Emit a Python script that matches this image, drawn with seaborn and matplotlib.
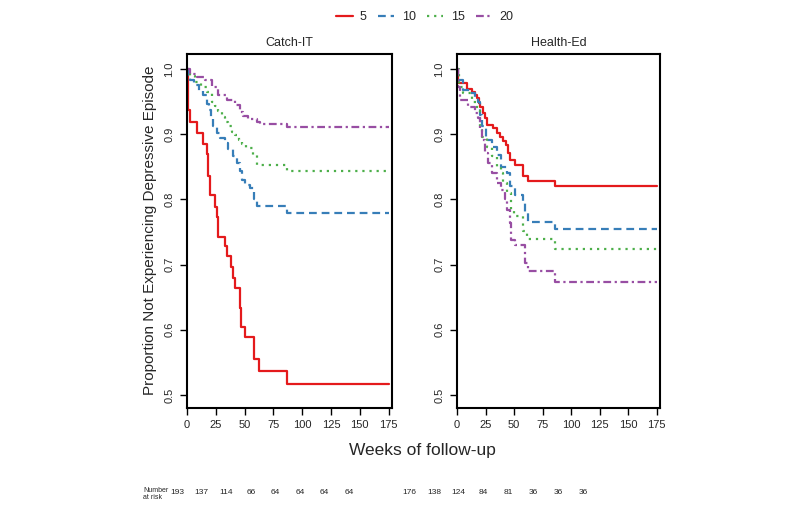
import numpy as np
import pandas as pd
import matplotlib
matplotlib.use("Agg")
import matplotlib.pyplot as plt
from matplotlib.lines import Line2D
from matplotlib import font_manager
import seaborn as sns

# ---------------- data ----------------
groups = ["5", "10", "15", "20"]
panel_titles = ["Catch-IT", "Health-Ed"]
x_ticks = [0, 25, 50, 75, 100, 125, 150, 175]
y_ticks = [0.5, 0.6, 0.7, 0.8, 0.9, 1.0]

ci_t5 = [0, 0.5, 1, 2.5, 8.5, 13.5, 17, 18.5, 20, 24.5, 26, 27, 33, 34.5, 38, 40, 42, 46, 47, 50.5, 58.5, 62.5, 87, 175]
ci_s5 = [1.0, 0.97, 0.937, 0.919, 0.902, 0.885, 0.869, 0.836, 0.806, 0.789, 0.773, 0.743, 0.728, 0.713, 0.697, 0.680, 0.664, 0.634, 0.604, 0.589, 0.555, 0.536, 0.517, 0.517]
ci_t10 = [0, 1, 3, 6, 10, 14, 17, 19, 21, 23, 26, 29, 33, 36, 40, 43, 46, 47.5, 50, 55, 58, 61, 87, 175]
ci_s10 = [1.0, 0.99, 0.983, 0.975, 0.967, 0.96, 0.947, 0.937, 0.925, 0.912, 0.902, 0.894, 0.887, 0.877, 0.866, 0.856, 0.843, 0.83, 0.822, 0.818, 0.80, 0.79, 0.779, 0.779]
ci_t15 = [0, 2.5, 7, 12.5, 17, 21.5, 24, 27, 30, 33, 36, 39, 42, 45, 48, 51, 57.5, 61, 87, 175]
ci_s15 = [1.0, 0.99, 0.98, 0.973, 0.965, 0.95, 0.943, 0.935, 0.927, 0.919, 0.912, 0.904, 0.898, 0.891, 0.885, 0.879, 0.868, 0.852, 0.844, 0.844]
ci_t20 = [0, 3, 8.5, 16, 21.5, 27, 34.5, 41.5, 46, 49, 53, 60.5, 63, 87, 175]
ci_s20 = [1.0, 0.993, 0.988, 0.983, 0.972, 0.96, 0.953, 0.945, 0.934, 0.928, 0.924, 0.919, 0.915, 0.911, 0.911]

he_t5 = [0, 1, 8.5, 12.8, 15.7, 17.8, 19, 20, 22.5, 24.5, 26.5, 31.8, 34.7, 37.6, 40.5, 42.8, 44.8, 46.3, 50.7, 58, 62, 86, 175]
he_s5 = [1.0, 0.978, 0.970, 0.965, 0.96, 0.955, 0.948, 0.942, 0.932, 0.925, 0.914, 0.909, 0.902, 0.896, 0.889, 0.884, 0.871, 0.861, 0.853, 0.836, 0.828, 0.82, 0.82]
he_t10 = [0, 1, 5.5, 11.3, 15.7, 18.7, 20, 21.6, 25.4, 30.3, 34.7, 39, 43.5, 46.4, 50.7, 58, 59.5, 62.4, 86, 175]
he_s10 = [1.0, 0.983, 0.968, 0.963, 0.955, 0.95, 0.93, 0.912, 0.891, 0.881, 0.868, 0.85, 0.84, 0.82, 0.807, 0.794, 0.779, 0.766, 0.755, 0.755]
he_t15 = [0, 1.5, 5.5, 12.8, 17.2, 20, 21.6, 26.5, 30.3, 34.7, 39, 40.5, 44, 47.5, 50, 58, 61, 86, 175]
he_s15 = [1.0, 0.973, 0.963, 0.95, 0.935, 0.912, 0.896, 0.881, 0.866, 0.85, 0.84, 0.825, 0.81, 0.784, 0.774, 0.752, 0.739, 0.724, 0.724]
he_t20 = [0, 1, 2.6, 10, 15.7, 18.7, 20, 21.6, 24.5, 27.4, 30.3, 34.7, 39, 42, 43.5, 46.4, 47.5, 50.7, 59.5, 62.4, 86, 175]
he_s20 = [1.0, 0.973, 0.953, 0.942, 0.932, 0.925, 0.907, 0.891, 0.871, 0.856, 0.84, 0.825, 0.815, 0.80, 0.784, 0.764, 0.738, 0.73, 0.702, 0.69, 0.674, 0.674]

ci_risk = [193, 137, 114, 66, 64, 64, 64, 64]
he_risk = [176, 138, 124, 84, 81, 36, 36, 36]

# ---------------- style ----------------
sns.set_theme(style="ticks")
names = {f.name for f in font_manager.fontManager.ttflist}
fam = "Liberation Sans Narrow" if "Liberation Sans Narrow" in names else "Liberation Sans"
plt.rcParams["font.family"] = [fam, "DejaVu Sans"]

palette = {"5": "#E41A1C", "10": "#377EB8", "15": "#4DAF4A", "20": "#984EA3"}
dashes = {"5": "", "10": (3.5, 2.2), "15": (1, 2.2), "20": (3.5, 1.6, 1, 1.6)}
LW = 1.6


def make_df(ts, ss):
    rows = []
    for g, t, s in zip(groups, ts, ss):
        rows.append(pd.DataFrame({"time": t, "surv": s, "group": g}))
    return pd.concat(rows, ignore_index=True)


df_ci = make_df([ci_t5, ci_t10, ci_t15, ci_t20], [ci_s5, ci_s10, ci_s15, ci_s20])
df_he = make_df([he_t5, he_t10, he_t15, he_t20], [he_s5, he_s10, he_s15, he_s20])

W, H = 798, 507
fig = plt.figure(figsize=(W / 100, H / 100), dpi=100)
fig.patch.set_facecolor("white")

ax_pos = [(187, 54, 392, 408), (457, 54, 660, 408)]
axes = []
for (x0, y0, x1, y1), df, title in zip(ax_pos, [df_ci, df_he], panel_titles):
    ax = fig.add_axes([x0 / W, 1 - y1 / H, (x1 - x0) / W, (y1 - y0) / H])
    sns.lineplot(data=df, x="time", y="surv", hue="group", style="group",
                 hue_order=groups, style_order=groups,
                 palette=palette, dashes=dashes, estimator=None,
                 drawstyle="steps-post", linewidth=LW, legend=False, ax=ax)
    ax.set_xlim(0, 178)
    ax.set_ylim(0.48, 1.023)
    ax.set_xticks(x_ticks)
    ax.set_xticklabels([str(v) for v in x_ticks], fontsize=8)
    ax.set_yticks(y_ticks)
    ax.set_yticklabels([f"{v:.1f}" for v in y_ticks], fontsize=8, rotation=90, va="center")
    ax.tick_params(direction="out", length=5, width=1, color="black", pad=4)
    ax.set_xlabel("")
    ax.set_ylabel("")
    ax.set_title(title, fontsize=9, pad=6)
    for sp in ax.spines.values():
        sp.set_visible(True)
        sp.set_linewidth(1.5)
        sp.set_color("black")
    ax.set_facecolor("white")
    axes.append(ax)

fig.text(422 / W, 1 - 450 / H, "Weeks of follow-up", ha="center", va="center", fontsize=12.5)
fig.text(150 / W, 1 - 230 / H, "Proportion Not Experiencing Depressive Episode",
         ha="center", va="center", rotation=90, fontsize=11)

# legend
handles = [Line2D([0], [0], color=palette[g], lw=LW,
                  linestyle=("-" if dashes[g] == "" else (0, dashes[g]))) for g in groups]
fig.legend(handles, groups, loc="center", bbox_to_anchor=(425 / W, 1 - 17 / H), ncol=4,
           frameon=False, fontsize=9, handlelength=1.3, columnspacing=0.9, handletextpad=0.6)

# number at risk
fig.text(143 / W, 1 - 494 / H, "Number\nat risk", ha="left", va="center", fontsize=5, linespacing=1.15)
for xs, risk in [((177, 24.6), ci_risk), ((409, 24.9), he_risk)]:
    for i, r in enumerate(risk):
        fig.text((xs[0] + i * xs[1]) / W, 1 - 493 / H, str(r), ha="center", va="center", fontsize=6)

fig.savefig("out.png", dpi=100, facecolor="white")
